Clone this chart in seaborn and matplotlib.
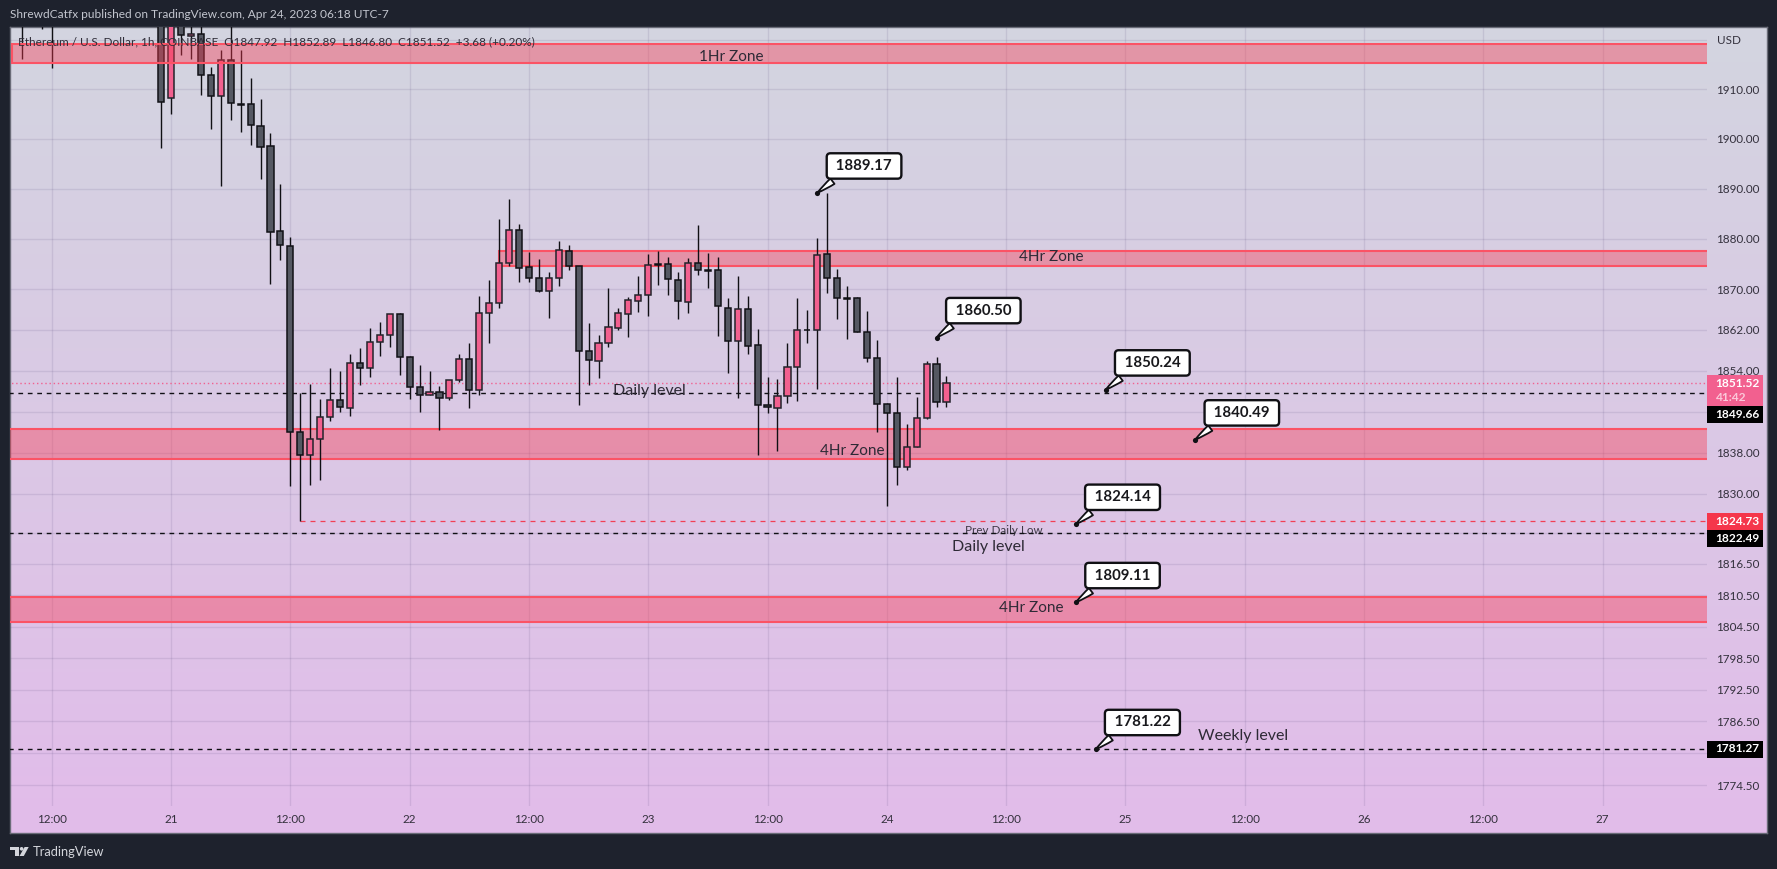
import numpy as np
import pandas as pd
import seaborn as sns
import matplotlib.pyplot as plt
from matplotlib.colors import LinearSegmentedColormap
from matplotlib.patches import Rectangle, Circle, Polygon
from matplotlib.ticker import NullLocator

# Candle data, hours counted from Apr 21 00:00
hours = [-15, -13, -12] + list(range(-1, 79))
opens = [1930, 1930, 1930, 1930, 1908.32, 1925, 1920.77, 1921.10, 1912.83, 1908.59, 1915.85, 1907.0, 1906.97,
         1902.53, 1898.49, 1881.57, 1878.59, 1842.00, 1837.46, 1840.63, 1844.93, 1848.24, 1846.68, 1855.49,
         1854.51, 1859.61, 1860.99, 1865.12, 1856.66, 1850.79, 1849.16, 1849.81, 1848.63, 1852.15, 1856.27,
         1850.20, 1865.32, 1867.30, 1875.21, 1881.76, 1874.42, 1872.17, 1869.66, 1872.23, 1877.59, 1874.61,
         1857.85, 1855.88, 1859.41, 1862.37, 1865.12, 1867.69, 1868.88, 1874.95, 1875.01, 1871.84, 1867.49,
         1875.21, 1873.82, 1873.82, 1866.31, 1859.80, 1866.11, 1859.02, 1847.27, 1846.68, 1849.02, 1854.71,
         1861.97, 1861.97, 1877.00, 1872.23, 1868.28, 1868.28, 1861.58, 1856.47, 1847.46, 1845.70, 1835.20,
         1839.08, 1844.73, 1855.29, 1847.92]
closes = [1928, 1929, 1928, 1907.51, 1930, 1920.90, 1921.10, 1912.83, 1908.59, 1915.85, 1907.17, 1906.9, 1902.73,
          1898.29, 1881.33, 1878.78, 1842.00, 1837.46, 1840.63, 1844.93, 1848.24, 1846.81, 1855.49, 1854.51,
          1859.61, 1860.99, 1865.12, 1856.66, 1850.79, 1849.16, 1849.81, 1848.63, 1852.15, 1856.27, 1850.20,
          1865.32, 1867.30, 1875.21, 1881.76, 1874.22, 1872.17, 1869.66, 1872.23, 1877.79, 1874.61, 1857.85,
          1856.08, 1859.41, 1862.56, 1865.32, 1867.89, 1868.88, 1874.81, 1874.81, 1872.04, 1867.69, 1875.21,
          1873.82, 1873.68, 1866.70, 1859.80, 1866.11, 1858.83, 1847.27, 1846.87, 1848.96, 1854.71, 1861.97,
          1861.93, 1876.80, 1872.23, 1868.28, 1868.09, 1861.58, 1856.47, 1847.46, 1845.70, 1835.20, 1839.08,
          1844.73, 1855.29, 1847.85, 1851.52]
highs = [1932, 1932, 1932, 1935, 1935, 1928, 1925, 1925, 1914.44, 1917.87, 1925, 1917.87, 1912.22,
         1908.05, 1901.12, 1891.03, 1880.44, 1849.61, 1851.44, 1848.50, 1854.51, 1853.98, 1857.32, 1858.50,
         1862.37, 1863.55, 1865.12, 1865.32, 1856.86, 1855.10, 1853.98, 1851.05, 1852.15, 1857.32, 1859.41,
         1868.68, 1871.84, 1883.96, 1887.94, 1882.96, 1877.39, 1876.00, 1873.43, 1879.57, 1878.78, 1874.61,
         1863.35, 1860.99, 1870.26, 1866.31, 1868.48, 1872.64, 1877.00, 1877.59, 1876.40, 1873.43, 1876.20,
         1882.76, 1877.19, 1876.40, 1868.28, 1872.64, 1868.68, 1862.17, 1852.74, 1852.35, 1859.41, 1868.28,
         1865.92, 1880.18, 1889.17, 1874.02, 1870.65, 1868.48, 1865.71, 1860.01, 1847.66, 1852.74, 1843.56,
         1848.83, 1855.88, 1856.66, 1852.89]
lows = [1916.12, 1922.18, 1914.37, 1898.16, 1905.02, 1916.93, 1916.06, 1908.86, 1902.06, 1890.55, 1903.81, 1901.45,
        1898.83, 1891.90, 1871.10, 1875.87, 1831.5, 1824.73, 1831.7, 1832.6, 1844.08, 1845.83, 1845.05, 1851.11,
        1852.68, 1856.79, 1858.56, 1853.07, 1848.37, 1845.83, 1849.16, 1842.33, 1848.18, 1851.70, 1846.62,
        1849.16, 1859.35, 1866.24, 1874.55, 1871.38, 1871.38, 1869.40, 1864.27, 1870.59, 1873.76, 1847.20,
        1851.18, 1852.48, 1858.56, 1861.91, 1860.53, 1865.45, 1864.67, 1870.79, 1868.82, 1864.07, 1865.25,
        1872.90, 1870.20, 1860.73, 1853.46, 1848.57, 1857.19, 1837.46, 1845.64, 1838.23, 1847.59, 1847.98,
        1859.52, 1850.33, 1869.21, 1864.07, 1860.14, 1861.58, 1855.61, 1841.94, 1827.58, 1831.64, 1834.56,
        1839.08, 1844.47, 1846.81, 1846.80]

# Zones: start hour, low, high
zone_starts = [-16, 33, -18, -18]
zone_lows = [1915.25, 1874.68, 1836.81, 1805.40]
zone_highs = [1919.09, 1877.65, 1842.52, 1810.24]

# Horizontal levels
level_prices = [1849.66, 1822.49, 1781.27]
prev_low = 1824.73
prev_low_start = 13
last_close = 1851.52

# Callouts
callout_hours = [65, 77, 94, 103, 91, 91, 93]
callout_prices = [1889.17, 1860.50, 1850.24, 1840.49, 1824.14, 1809.11, 1781.22]
callout_texts = ["1889.17", "1860.50", "1850.24", "1840.49", "1824.14", "1809.11", "1781.22"]

# Free text on the chart
note_texts = ["1Hr Zone", "4Hr Zone", "Daily level", "4Hr Zone", "Daily level", "4Hr Zone", "Weekly level"]
note_hours = [56.4, 88.5, 48.1, 68.5, 82.2, 86.5, 107.8]
note_prices = [1916.55, 1876.5, 1850.1, 1838.4, 1819.67, 1808.1, 1783.7]

y_ticks = [1920, 1910, 1900, 1890, 1880, 1870, 1862, 1854, 1846, 1838, 1830, 1822.5, 1816.5, 1810.5, 1804.5,
           1798.5, 1792.5, 1786.5, 1780.5, 1774.5]
y_labels = ["", "1910.00", "1900.00", "1890.00", "1880.00", "1870.00", "1862.00", "1854.00", "", "1838.00",
            "1830.00", "", "1816.50", "1810.50", "1804.50", "1798.50", "1792.50", "1786.50", "", "1774.50"]
x_ticks = [-12, 0, 12, 24, 36, 48, 60, 72, 84, 96, 108, 120, 132, 144]
x_labels = ["12:00", "21", "12:00", "22", "12:00", "23", "12:00", "24", "12:00", "25", "12:00", "26", "12:00", "27"]

W, H = 1777, 869
DARK = "#1e222d"
UP = "#f2608f"
DOWN = "#555862"
EDGE = "#23232b"
RED = "#fb5365"
TXT = "#2e2a36"

sns.set_theme(style="whitegrid", rc={"font.family": "Lato", "axes.facecolor": "none", "figure.facecolor": DARK})


def px_box(x0, y0, x1, y1):
    return [x0 / W, 1 - y1 / H, (x1 - x0) / W, (y1 - y0) / H]


fig = plt.figure(figsize=(W / 100, H / 100), dpi=100)

# gradient background of the whole pane
bg = fig.add_axes(px_box(10, 27, 1767, 833))
cmap = LinearSegmentedColormap.from_list("pane", ["#d3d5e0", "#e2bcea"])
bg.imshow(np.linspace(0, 1, 256).reshape(-1, 1), aspect="auto", cmap=cmap)
bg.set_xticks([])
bg.set_yticks([])
bg.grid(False)
for s in bg.spines.values():
    s.set_color("#6a6c78")
    s.set_linewidth(1)

ax = fig.add_axes(px_box(10.3, 27, 1707, 806))
ax.patch.set_alpha(0)

df = pd.DataFrame({"hour": hours, "open": opens, "close": closes, "high": highs, "low": lows})
df["body"] = (df["close"] - df["open"]).abs().clip(lower=0.05)
df["base"] = df[["open", "close"]].min(axis=1)
up = df[df["close"] > df["open"]]
down = df[df["close"] <= df["open"]]

ax.vlines(df["hour"], df["low"], df["high"], color="#101014", linewidth=1.0, zorder=3)
sns.barplot(data=up, x="hour", y="body", bottom=up["base"].values, native_scale=True, width=0.62, color=UP,
            saturation=1, edgecolor=EDGE, linewidth=1.1, errorbar=None, zorder=4, ax=ax)
sns.barplot(data=down, x="hour", y="body", bottom=down["base"].values, native_scale=True, width=0.62, color=DOWN,
            saturation=1, edgecolor="#111116", linewidth=1.1, errorbar=None, zorder=4, ax=ax)

# zones, the top one sits over the candles
for i in range(len(zone_lows)):
    z = 5 if i == 0 else 2
    ax.add_patch(Rectangle((zone_starts[i], zone_lows[i]), 200, zone_highs[i] - zone_lows[i],
                           facecolor=(0.98, 0.22, 0.31, 0.4), edgecolor=RED, linewidth=1.5, zorder=z))

# dashed levels
for p in level_prices:
    sns.lineplot(x=[-20, 160], y=[p, p], color="#101014", linewidth=1.0, linestyle=(0, (3.4, 3.4)),
                 zorder=2.5, errorbar=None, ax=ax)
sns.lineplot(x=[prev_low_start, 160], y=[prev_low, prev_low], color="#f23f55", linewidth=0.9,
             linestyle=(0, (4, 4)), zorder=2.5, errorbar=None, ax=ax)
sns.lineplot(x=[-20, 160], y=[last_close, last_close], color="#f2608f", linewidth=1.0, linestyle=(0, (1, 2)),
             zorder=2.5, errorbar=None, ax=ax)

ax.set_yscale("log")
ax.set_xlim(-16.17, 154.5)
ax.set_ylim(1770.6, 1922.6)
ax.yaxis.tick_right()
ax.set_yticks(y_ticks)
ax.set_yticklabels(y_labels)
ax.yaxis.set_minor_locator(NullLocator())
ax.set_xticks(x_ticks)
ax.set_xticklabels(x_labels)
ax.set_xlabel("")
ax.set_ylabel("")
ax.grid(True, color="#54477a", alpha=0.13, linewidth=1)
ax.set_axisbelow(True)
ax.tick_params(axis="y", length=0, pad=6.2, labelsize=8.4, labelcolor="#33303c")
ax.tick_params(axis="x", length=0, pad=6, labelsize=8.4, labelcolor="#33303c")
for s in ax.spines.values():
    s.set_visible(False)

# free text on the chart
for t, xh, yp in zip(note_texts, note_hours, note_prices):
    ax.text(xh, yp, t, ha="center", va="center", fontsize=11 if "Zone" in t else 11.5, color=TXT, zorder=7)
ax.text(83.8, 1822.9, "Prev Daily Low", ha="center", va="center", fontsize=8.4, color="#3d3845", zorder=2)

# callouts
sns.scatterplot(x=callout_hours, y=callout_prices, color="#101014", s=14, linewidth=0, zorder=8, ax=ax)
for xh, yp, t in zip(callout_hours, callout_prices, callout_texts):
    ax.annotate(" " + t + " ", xy=(xh, yp), xytext=(33.7, 19.4), textcoords="offset points", ha="center", va="center",
                fontsize=10.8, fontweight="bold", color="#18181c", zorder=9,
                bbox=dict(boxstyle="round,pad=0.38,rounding_size=0.25", fc="white", ec="#101014", lw=1.7),
                arrowprops=dict(arrowstyle="wedge,tail_width=0.45,shrink_factor=0.6", fc="white", ec="#101014",
                                lw=1.3, relpos=(0.17, 0), shrinkB=0))


# price tags on the axis
def tag(y0, y1, color):
    fig.add_artist(Rectangle((1707 / W, 1 - y1 / H), 55.7 / W, (y1 - y0) / H, transform=fig.transFigure,
                             facecolor=color, edgecolor="none", zorder=10))


def tag_text(y, t, color="white"):
    fig.text(1715.7 / W, 1 - y / H, t, color=color, fontsize=8.6, fontweight="bold", ha="left", va="center", zorder=11)


tag(375, 405.7, "#f2608f")
tag_text(383.7, "1851.52")
tag_text(397.7, "41:42", "#fbc9da")
tag(405.7, 422.7, "#000000")
tag_text(414.5, "1849.66")
tag(513, 530, "#f5364b")
tag_text(521.5, "1824.73")
tag(530, 546.7, "#000000")
tag_text(538.5, "1822.49")
tag(740.5, 757.5, "#000000")
tag_text(749, "1781.27")

fig.text(1717 / W, 1 - 40 / H, "USD", color="#33303c", fontsize=8.4, ha="left", va="center")

# header, legend line, footer
fig.text(9.6 / W, 1 - 15 / H, "ShrewdCatfx published on TradingView.com, Apr 24, 2023 06:18 UTC-7",
         color="#c3c6cf", fontsize=8.55, ha="left", va="center")
fig.text(18 / W, 1 - 42 / H, "Ethereum / U.S. Dollar, 1h, COINBASE  O1847.92  H1852.89  L1846.80  C1851.52  +3.68 (+0.20%)",
         color="#2f2d38", fontsize=8.45, ha="left", va="center", zorder=12)
fig.text(33 / W, 1 - 852 / H, "TradingView", color="#d4d6dc", fontsize=9.3, ha="left", va="center")

# logo
for a in [Rectangle((10.3, 847), 9, 3.2), Rectangle((15, 847), 4, 9),
          Polygon([(19.5, 856), (23.8, 856), (28.7, 847), (24.6, 847)]), Circle((21.6, 848.8), 1.8)]:
    a.set_transform(plt.matplotlib.transforms.Affine2D().scale(1 / W, -1 / H).translate(0, 1) + fig.transFigure)
    a.set_facecolor("#d4d6dc")
    a.set_edgecolor("none")
    fig.add_artist(a)

fig.savefig("out.png", dpi=100)
